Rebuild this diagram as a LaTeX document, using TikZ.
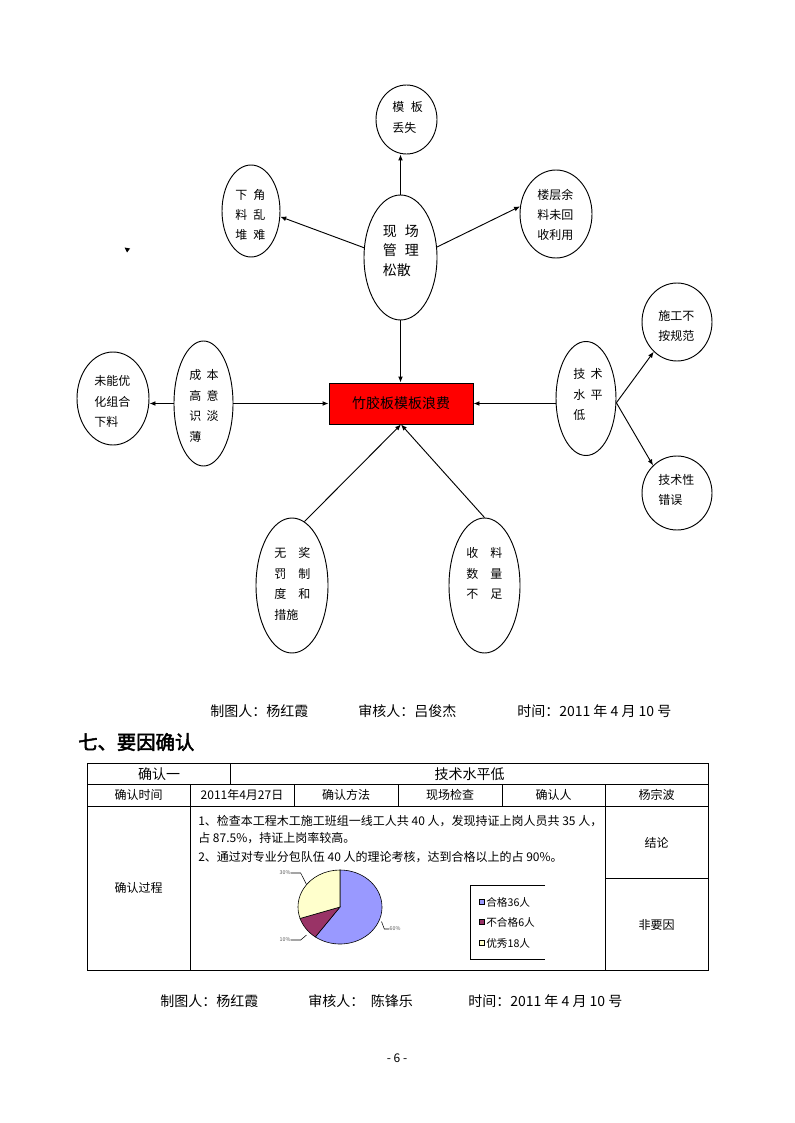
\documentclass[tikz,border=0pt]{standalone}
\usepackage{fontspec}
\setmainfont{Noto Sans CJK SC}
\newfontfamily\hbold{Noto Sans CJK SC}[FakeBold=2.5]
\usetikzlibrary{shapes.geometric,arrows.meta}
\begin{document}
\begin{tikzpicture}[x=0.75pt,y=-0.75pt,
  ell/.style 2 args={ellipse,draw,line width=0.7pt,inner sep=0pt,minimum width={1.5pt*#1},minimum height={1.5pt*#2}},
  et/.style={align=left,anchor=west,inner sep=0pt,font=\fontsize{9pt}{15.3pt}\selectfont},
  arr/.style={line width=0.7pt,-{Latex[length=4.5pt,width=3.6pt]}},
  tl/.style={line width=0.75pt},
  tt/.style={inner sep=0pt,font=\fontsize{9pt}{11pt}\selectfont},
  tb/.style={inner sep=0pt,font=\fontsize{10.5pt}{12pt}\selectfont},
  ft/.style={inner sep=0pt,anchor=west,font=\fontsize{10.5pt}{12pt}\selectfont},
  pl/.style={inner sep=0pt,font=\fontsize{4pt}{5pt}\selectfont,text=black!65},
  lg/.style={inner sep=0pt,anchor=west,font=\fontsize{8pt}{9pt}\selectfont},
  lsq/.style={draw,line width=0.4pt,minimum size=3.8pt,inner sep=0pt}
]
\useasboundingbox[fill=white] (0,0) rectangle (794,1123);

% ---------- ellipses ----------
\node[ell={30.5}{34.5}] (mb) at (406.5,119.5) {};
\node[et] (mbt) at (392,117.5) {模\hspace{5pt}板\\丢失};
\node[ell={29}{46}] (xj) at (251,211) {};
\node[et] (xjt) at (235,215) {下\hspace{4.5pt}角\\料\hspace{4.5pt}乱\\堆\hspace{4.5pt}难};
\node[ell={36.5}{62.5}] (xc) at (400.5,257.5) {};
\node[et,font=\fontsize{10.5pt}{14.6pt}\selectfont] (xct) at (382.5,250.5) {现\hspace{6pt}场\\管\hspace{6pt}理\\松散};
\node[ell={36}{44}] (lc) at (556,214) {};
\node[et] (lct) at (537,215) {楼层余\\料未回\\收利用};
\node[ell={36}{46.5}] (wn) at (113,398.5) {};
\node[et] (wnt) at (94,401.5) {未能优\\化组合\\下料};
\node[ell={29.5}{62.5}] (cb) at (203.5,403.5) {};
\node[et] (cbt) at (189,406) {成\hspace{4pt}本\\高\hspace{4pt}意\\识\hspace{4pt}淡\\薄};
\node[draw,fill=red,line width=0.7pt,minimum width=108pt,minimum height=30.75pt,inner sep=0pt,font=\fontsize{10.5pt}{12pt}\selectfont] (rc) at (401,403.5) {竹胶板模板浪费};
\node[ell={30}{57}] (js) at (586,398.5) {};
\node[et] (jst) at (573,394.5) {技\hspace{4pt}术\\水\hspace{4pt}平\\低};
\node[ell={35}{39}] (sg) at (677,322) {};
\node[et] (sgt) at (658,326) {施工不\\按规范};
\node[ell={35}{37}] (jx) at (677,493) {};
\node[et] (jxt) at (658,490) {技术性\\错误};
\node[ell={36}{67.5}] (wj) at (292,585.5) {};
\node[et] (wjt) at (274,584) {无\hspace{9pt}奖\\罚\hspace{9pt}制\\度\hspace{9pt}和\\措施};
\node[ell={35.5}{67.5}] (sl) at (484.5,585.5) {};
\node[et] (slt) at (466,573.5) {收\hspace{9pt}料\\数\hspace{9pt}量\\不\hspace{9pt}足};

% ---------- connectors ----------
\draw[arr] (xc.north) -- (xc.north |- mb.south);
\draw[arr] (xc.165.4) -- (xj.-11.7);
\draw[arr] (xc.16) -- (lc.168.7);
\draw[arr] (xc.south) -- (xc.south |- rc.north);
\draw[arr] (cb.west) -- (cb.west -| wn.east);
\draw[arr] (cb.east) -- (cb.east -| rc.west);
\draw[arr] (js.west |- rc.east) -- (rc.east);
\draw[arr] (js.-8) -- (sg.232);
\draw[arr] (js.-8) -- (jx.131);
\draw[arr] (wj.79) -- (rc.south);
\draw[arr] (sl.north) -- (rc.south);

% small stray mark
\fill (124.5,247.5) -- (130,248.5) -- (127,252.5) -- cycle;

% ---------- footer 1 and heading ----------
\node[ft] (f1a) at (210,711) {制图人：杨红霞};
\node[ft] (f1b) at (358,711) {审核人：吕俊杰};
\node[ft] (f1c) at (517,711) {时间：2011 年 4 月 10 号};
\node[inner sep=0pt,anchor=west,font=\fontsize{14.5pt}{16pt}\hbold] (hd) at (78,742) {七、要因确认};

% ---------- table ----------
\draw[tl] (87,763) rectangle (708,970);
\draw[tl] (87,784) -- (708,784);
\draw[tl] (87,806) -- (708,806);
\draw[tl] (230,763) -- (230,784);
\foreach \x in {190,294,398,502,605} \draw[tl] (\x,784) -- (\x,806);
\draw[tl] (190,806) -- (190,970);
\draw[tl] (605,806) -- (605,970);
\draw[tl] (605,878) -- (708,878);

\node[tb] (c11) at (159,774) {确认一};
\node[tb] (c12) at (469.5,774) {技术水平低};
\node[tt] (c21) at (138.5,795) {确认时间};
\node[tt] (c22) at (242,795) {2011年4月27日};
\node[tt] (c23) at (346,795) {确认方法};
\node[tt] (c24) at (450,795) {现场检查};
\node[tt] (c25) at (553.5,795) {确认人};
\node[tt] (c26) at (656.5,795) {杨宗波};
\node[tt] (c31) at (138.5,888) {确认过程};
\node[tt] (c33) at (656.5,843) {结论};
\node[tt] (c34) at (656.5,925) {非要因};
\node[tt,anchor=west] (p1) at (198,821) {1、检查本工程木工施工班组一线工人共 40 人，发现持证上岗人员共 35 人，};
\node[tt,anchor=west] (p2) at (198,838.5) {占 87.5\%，持证上岗率较高。};
\node[tt,anchor=west] (p3) at (198,857.5) {2、通过对专业分包队伍 40 人的理论考核，达到合格以上的占 90\%。};

% ---------- pie chart ----------
\begin{scope}[shift={(340,907)},yscale=-1]
  \filldraw[fill={rgb,255:red,153;green,153;blue,255},line width=0.45pt] (0,0) -- (-126:42 and 37) arc[start angle=-126,end angle=90,x radius=42,y radius=37] -- cycle;
  \filldraw[fill={rgb,255:red,153;green,51;blue,102},line width=0.45pt] (0,0) -- (-162:42 and 37) arc[start angle=-162,end angle=-126,x radius=42,y radius=37] -- cycle;
  \filldraw[fill={rgb,255:red,255;green,255;blue,204},line width=0.45pt] (0,0) -- (90:42 and 37) arc[start angle=90,end angle=198,x radius=42,y radius=37] -- cycle;
\end{scope}
\node[pl] (l30) at (285,873) {30\%};
\node[pl] (l10) at (285,940) {10\%};
\node[pl] (l60) at (395,929) {60\%};
\coordinate (k30) at (306.5,884.5);
\coordinate (k10) at (306.5,935);
\coordinate (k60) at (381.5,921.5);
\draw[line width=0.4pt] (l30.east) -- ++(10,0) -- (k30);
\draw[line width=0.4pt] (l10.east) -- ++(10,0) -- (k10);
\draw[line width=0.4pt] (l60.west) -- ++(-5,0) -- (k60);

% legend
\draw[line width=0.6pt] (545,885) -- (470,885) -- (470,959) -- (545,959);
\node[lsq,fill={rgb,255:red,153;green,153;blue,255}] (q1) at (481.5,902) {};
\node[lsq,fill={rgb,255:red,153;green,51;blue,102}] (q2) at (481.5,922) {};
\node[lsq,fill={rgb,255:red,255;green,255;blue,204}] (q3) at (481.5,943) {};
\node[lg] (g1) at (486,902) {合格36人};
\node[lg] (g2) at (486,922) {不合格6人};
\node[lg] (g3) at (486,943) {优秀18人};

% ---------- footer 2 and page number ----------
\node[ft] (f2a) at (160,1001.5) {制图人：杨红霞};
\node[ft] (f2b) at (308,1001.5) {审核人：\hspace{5pt}陈锋乐};
\node[ft] (f2c) at (468,1001.5) {时间：2011 年 4 月 10 号};
\node[inner sep=0pt,font=\fontsize{9pt}{10pt}\selectfont] (pg) at (397,1058) {- 6 -};
\end{tikzpicture}
\end{document}
